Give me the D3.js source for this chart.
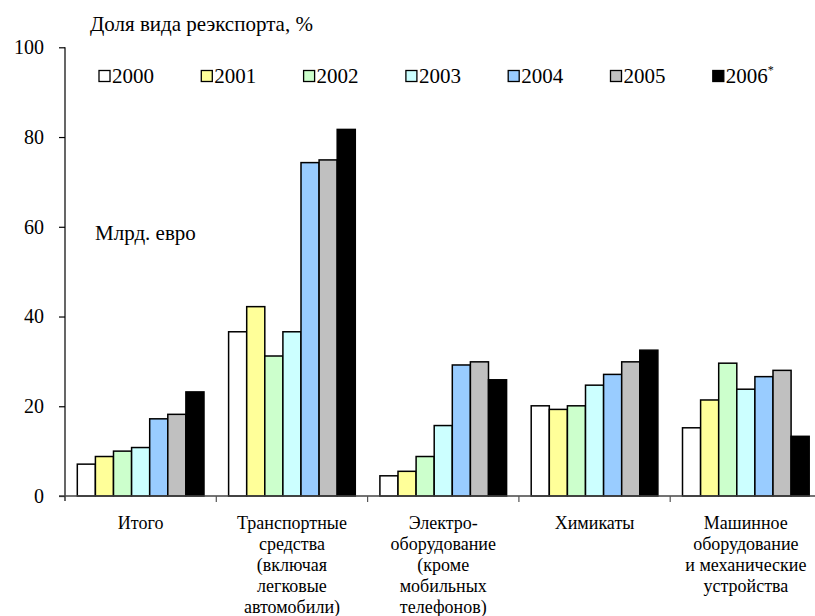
<!DOCTYPE html>
<html>
<head>
<meta charset="utf-8">
<script src="https://cdn.jsdelivr.net/npm/d3@7"></script>
<style>
  html, body { margin: 0; padding: 0; background: #fff; }
  svg { display: block; }
  svg text { font-family: "Liberation Serif", "Times New Roman", Tinos, "DejaVu Serif", "Noto Serif", serif; }
</style>
</head>
<body>
<svg id="chart" width="815" height="616"></svg>
<script>
const FONT = '"Liberation Serif", "Times New Roman", Tinos, "DejaVu Serif", "Noto Serif", serif';

// Product groups (label lines)
const categories = [
  ["Итого"],
  ["Транспортные", "средства", "(включая", "легковые", "автомобили)"],
  ["Электро-", "оборудование", "(кроме", "мобильных", "телефонов)"],
  ["Химикаты"],
  ["Машинное", "оборудование", "и механические", "устройства"]
];
const years = ["2000", "2001", "2002", "2003", "2004", "2005", "2006"];
const yearColors = ["#FFFFFF", "#FFFF99", "#CCFFCC", "#CCFFFF", "#99CCFF", "#C0C0C0", "#000000"];

// Values per year, one entry per product group
const v2000 = [7.1, 36.6, 4.5, 20.1, 15.2];
const v2001 = [8.8, 42.2, 5.5, 19.3, 21.4];
const v2002 = [10.0, 31.2, 8.8, 20.1, 29.6];
const v2003 = [10.8, 36.6, 15.7, 24.7, 23.8];
const v2004 = [17.2, 74.3, 29.2, 27.1, 26.6];
const v2005 = [18.2, 74.9, 29.9, 29.9, 28.0];
const v2006 = [23.2, 81.7, 25.9, 32.5, 13.3];
const seriesValues = [v2000, v2001, v2002, v2003, v2004, v2005, v2006];

const yTicks = [0, 20, 40, 60, 80, 100];

const svg = d3.select("#chart");

const y = d3.scaleLinear().domain([0, 100]).range([496, 47.3]);
const catKeys = categories.map((c, i) => "c" + i);
const x0 = d3.scaleBand().domain(catKeys).range([65, 65 + 5 * 151.3]).paddingInner(0).paddingOuter(0);
const x1 = d3.scaleBand().domain(years).range([0, x0.bandwidth()]).paddingInner(0).paddingOuter(0.68);

// Bars
const groups = svg.append("g").selectAll("g")
  .data(catKeys)
  .join("g")
  .attr("transform", d => `translate(${x0(d)},0)`);

groups.selectAll("rect")
  .data((d, ci) => years.map((yr, si) => ({ yr, si, v: seriesValues[si][ci] })))
  .join("rect")
  .attr("x", d => x1(d.yr))
  .attr("y", d => y(d.v))
  .attr("width", x1.bandwidth())
  .attr("height", d => y(0) - y(d.v))
  .attr("fill", d => yearColors[d.si])
  .attr("stroke", "#000")
  .attr("stroke-width", 1.5);

// Y axis
const yAxis = d3.axisLeft(y).tickValues(yTicks).tickSize(6).tickSizeOuter(0).tickPadding(15);
const gy = svg.append("g").attr("transform", "translate(65,0)").call(yAxis)
  .attr("font-family", FONT);
gy.select(".domain").attr("stroke", "#000").attr("stroke-width", 1.2)
  .attr("d", `M0,${y(100)}V${y(0) + 5}`);
gy.selectAll(".tick line").attr("stroke", "#000").attr("stroke-width", 1.2);
gy.selectAll(".tick text")
  .attr("font-family", FONT)
  .attr("font-size", 20)
  .attr("fill", "#000");

// X axis with ticks at group boundaries
const gx = svg.append("g").attr("transform", `translate(0,${y(0)})`);
gx.append("line").attr("x1", 59).attr("x2", 815).attr("y1", 0).attr("y2", 0)
  .attr("stroke", "#444").attr("stroke-width", 1.3);
gx.selectAll("line.sep")
  .data(catKeys.slice(1))
  .join("line")
  .attr("class", "sep")
  .attr("x1", d => x0(d)).attr("x2", d => x0(d))
  .attr("y1", 0).attr("y2", 6)
  .attr("stroke", "#555").attr("stroke-width", 1.2);

// Category labels
const labels = svg.append("g").selectAll("text")
  .data(categories)
  .join("text")
  .attr("font-family", FONT)
  .attr("text-anchor", "middle")
  .attr("font-size", 18)
  .attr("fill", "#000")
  .attr("transform", (d, i) => `translate(${x0(catKeys[i]) + x0.bandwidth() / 2},529)`);
labels.selectAll("tspan")
  .data(d => d)
  .join("tspan")
  .attr("x", 0)
  .attr("y", (d, i) => i * 21)
  .text(d => d);

// Title and unit text
svg.append("text").attr("x", 90).attr("y", 31)
  .attr("font-family", FONT)
  .attr("font-size", 21).attr("fill", "#000")
  .text("Доля вида реэкспорта, %");
svg.append("text").attr("x", 95).attr("y", 240)
  .attr("font-family", FONT)
  .attr("font-size", 21).attr("fill", "#000")
  .text("Млрд. евро");

// Legend
const legend = svg.append("g").selectAll("g")
  .data(years)
  .join("g")
  .attr("transform", (d, i) => `translate(${99 + i * 102.3},70.5)`);
legend.append("rect")
  .attr("width", 11).attr("height", 11)
  .attr("fill", (d, i) => yearColors[i])
  .attr("stroke", "#000").attr("stroke-width", 1.3);
const lt = legend.append("text")
  .attr("font-family", FONT)
  .attr("x", 13).attr("y", 12)
  .attr("font-size", 21).attr("fill", "#000")
  .text(d => d);
lt.filter(d => d === "2006").append("tspan")
  .attr("font-size", 12).attr("dy", -9)
  .text("*");
</script>
</body>
</html>
